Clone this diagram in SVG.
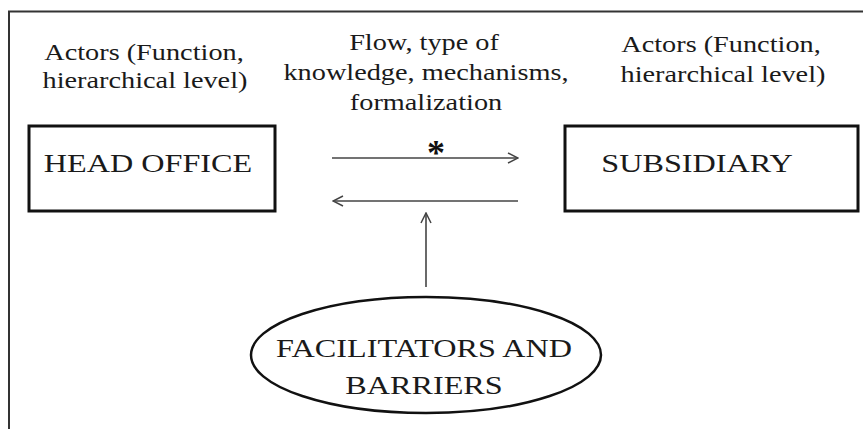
<svg xmlns="http://www.w3.org/2000/svg" width="863" height="429" viewBox="0 0 863 429">
<defs>
<marker id="arr" viewBox="0 0 12 12" refX="11" refY="6" markerWidth="12" markerHeight="12" markerUnits="userSpaceOnUse" orient="auto">
<path d="M1,1 L11,6 L1,11" fill="none" stroke="#444" stroke-width="1.5"/>
</marker>
</defs>
<rect width="863" height="429" fill="#fff"/>
<path d="M9,429 L9,11.5 L863,11.5" fill="none" stroke="#333" stroke-width="2"/>
<g id="label-left" fill="#1a1a1a" text-anchor="middle">
<text font-family="Times New Roman, Liberation Serif, serif" font-size="23" transform="translate(144,60) scale(1.23,1)">Actors (Function,</text>
<text font-family="Times New Roman, Liberation Serif, serif" font-size="23" transform="translate(145,88) scale(1.23,1)">hierarchical level)</text>
</g>
<g id="label-middle" fill="#1a1a1a" text-anchor="middle">
<text font-family="Times New Roman, Liberation Serif, serif" font-size="23" transform="translate(424,50) scale(1.23,1)">Flow, type of</text>
<text font-family="Times New Roman, Liberation Serif, serif" font-size="23" transform="translate(426,80) scale(1.23,1)">knowledge, mechanisms,</text>
<text font-family="Times New Roman, Liberation Serif, serif" font-size="23" transform="translate(426,110) scale(1.23,1)">formalization</text>
</g>
<g id="label-right" fill="#1a1a1a" text-anchor="middle">
<text font-family="Times New Roman, Liberation Serif, serif" font-size="23" transform="translate(721,52) scale(1.23,1)">Actors (Function,</text>
<text font-family="Times New Roman, Liberation Serif, serif" font-size="23" transform="translate(723,82) scale(1.23,1)">hierarchical level)</text>
</g>
<g id="head-office">
<rect x="29" y="126" width="246" height="85" fill="#fff" stroke="#111" stroke-width="3"/>
<text font-family="Times New Roman, Liberation Serif, serif" font-size="26" fill="#1a1a1a" text-anchor="middle" transform="translate(148,172) scale(1.24,1)">HEAD OFFICE</text>
</g>
<g id="subsidiary">
<rect x="565" y="126" width="293" height="85" fill="#fff" stroke="#111" stroke-width="3"/>
<text font-family="Times New Roman, Liberation Serif, serif" font-size="26" fill="#1a1a1a" text-anchor="middle" transform="translate(697,172) scale(1.24,1)">SUBSIDIARY</text>
</g>
<g id="facilitators">
<ellipse cx="426" cy="355" rx="175" ry="58" fill="#fff" stroke="#111" stroke-width="2.5"/>
<text font-family="Times New Roman, Liberation Serif, serif" font-size="26" fill="#1a1a1a" text-anchor="middle" transform="translate(424,357) scale(1.24,1)">FACILITATORS AND</text>
<text font-family="Times New Roman, Liberation Serif, serif" font-size="26" fill="#1a1a1a" text-anchor="middle" transform="translate(424,394) scale(1.24,1)">BARRIERS</text>
</g>
<g id="connectors" stroke="#444" stroke-width="1.6" fill="none">
<line x1="332" y1="158" x2="518" y2="158" marker-end="url(#arr)"/>
<line x1="518" y1="201" x2="333" y2="201" marker-end="url(#arr)"/>
<line x1="426" y1="287" x2="426" y2="213" marker-end="url(#arr)"/>
<text x="436" y="165" font-family="Times New Roman, Liberation Serif, serif" font-size="36" font-weight="bold" fill="#111" stroke="none" text-anchor="middle">*</text>
</g>
</svg>
